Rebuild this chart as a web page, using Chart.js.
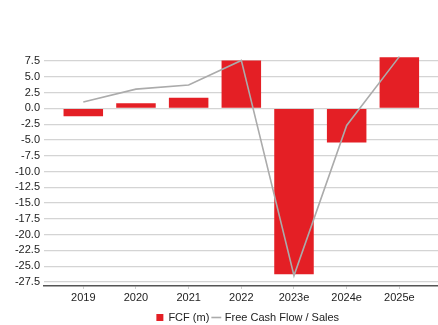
<!DOCTYPE html>
<html>
<head>
<meta charset="utf-8">
<script src="https://cdn.jsdelivr.net/npm/chart.js@4.4.1/dist/chart.umd.min.js"></script>
<style>
  html, body { margin: 0; padding: 0; background: #ffffff; overflow: hidden; }
  #wrap { width: 438px; height: 325px; overflow: hidden; }
  #c { display: block; }
</style>
</head>
<body>
<div id="wrap"><canvas id="c" width="496" height="333"></canvas></div>
<script>
const categories = ['2019', '2020', '2021', '2022', '2023e', '2024e', '2025e'];
const fcfValues = [-1.25, 0.8, 1.7, 7.6, -26.3, -5.4, 8.1];
const fcfToSales = [1.0, 3.05, 3.7, 7.6, -26.5, -2.7, 8.2];
const yTickValues = [7.5, 5.0, 2.5, 0.0, -2.5, -5.0, -7.5, -10.0, -12.5, -15.0,
                     -17.5, -20.0, -22.5, -25.0, -27.5];

const asPoints = vals => vals.map((v, i) => ({ x: i, y: v }));

Chart.defaults.font.family = "'Liberation Sans', Arial, sans-serif";
Chart.defaults.font.size = 11;
Chart.defaults.color = '#333333';

new Chart(document.getElementById('c'), {
  type: 'bar',
  data: {
    datasets: [
      {
        type: 'bar',
        label: 'FCF (m)',
        data: asPoints(fcfValues),
        backgroundColor: '#e41f25',
        borderWidth: 0,
        barPercentage: 0.75,
        categoryPercentage: 1.0,
        pointStyle: 'rect',
        order: 1
      },
      {
        type: 'line',
        label: 'Free Cash Flow / Sales',
        data: asPoints(fcfToSales),
        borderColor: '#ababab',
        backgroundColor: '#ababab',
        borderWidth: 1.6,
        pointRadius: 0,
        tension: 0,
        fill: false,
        pointStyle: 'line',
        order: 0
      }
    ]
  },
  options: {
    responsive: false,
    animation: false,
    layout: { padding: { top: 56, left: 0, right: 0, bottom: 0 } },
    plugins: {
      tooltip: { enabled: false },
      legend: {
        position: 'bottom',
        reverse: true,
        labels: {
          usePointStyle: true,
          boxWidth: 6,
          boxHeight: 7,
          padding: 4,
          color: '#222222',
          font: { size: 11 }
        }
      }
    },
    scales: {
      x: {
        type: 'linear',
        offset: false,
        min: -0.746,
        max: 7.835,
        afterBuildTicks: s => { s.ticks = categories.map((_, i) => ({ value: i })); },
        afterFit: s => { s.height = 22; },
        ticks: {
          padding: 2,
          autoSkip: false,
          maxRotation: 0,
          color: '#222222',
          callback: v => categories[v]
        },
        grid: {
          offset: false,
          drawOnChartArea: false,
          drawTicks: true,
          tickLength: 3,
          color: '#cfcfcf'
        },
        border: { color: '#555555', width: 1.5 }
      },
      y: {
        min: -28.15,
        max: 8.3,
        afterBuildTicks: s => { s.ticks = yTickValues.map(v => ({ value: v })); },
        afterFit: s => { s.width = 44; },
        ticks: {
          padding: 4,
          autoSkip: false,
          color: '#222222',
          callback: v => v.toFixed(1)
        },
        grid: {
          drawTicks: false,
          color: '#d4d4d4',
          lineWidth: 1.2
        },
        border: { display: false }
      }
    }
  }
});
</script>
</body>
</html>
